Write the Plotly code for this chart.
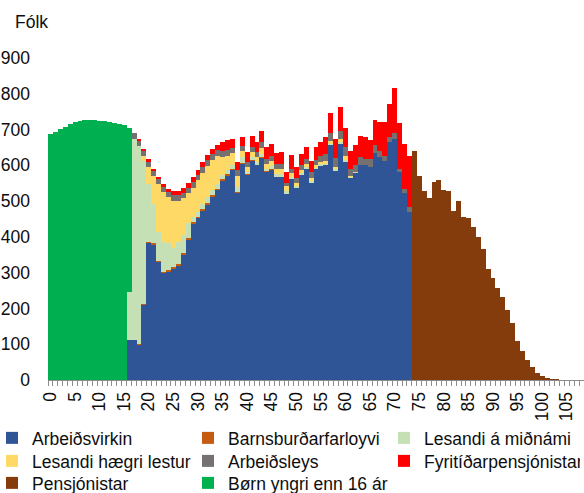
import plotly.graph_objects as go

# ---- data ----
ages = list(range(0, 109))
tick_ages = list(range(0, 110, 5))

# each series: first age and the values from that age on
arbeidsvirkin_start = 16
arbeidsvirkin = [112, 112, 100, 212, 385, 380, 330, 300, 304, 312,
                 320, 352, 394, 438, 453, 474, 491, 514, 532, 558,
                 572, 588, 523, 605, 573, 613, 601, 622, 583, 589,
                 568, 568, 521, 561, 539, 573, 591, 553, 590, 600,
                 602, 658, 586, 662, 612, 567, 580, 601, 601, 594,
                 634, 624, 613, 665, 675, 580, 523, 470]

barnsburdar_start = 18
barnsburdar = [2, 1, 1, 2, 2, 2, 3, 3, 4, 4, 3, 3, 3, 3, 3, 3, 3, 3, 3, 3,
               2, 2, 2, 2, 1, 1, 1, 1]

midnam_start = 16
midnam = [135, 563, 552, 398, 163, 110, 82, 84, 75, 53,
          62, 49, 41, 15, 14, 15, 18, 14, 14, 13,
          12, 11, 15, 16, 7, 7, 7, 9, 6, 9,
          7, 7, 8, 6, 4, 5, 4, 4, 3, 3,
          3, 3, 3, 3, 3, 1, 1]

haegri_start = 19
haegri = [14, 47, 78, 133, 140, 130, 133, 115, 105, 86,
          82, 89, 87, 86, 85, 77, 50, 40, 32, 30,
          17, 12, 14, 14, 17, 14, 14, 14, 14, 14,
          12, 9, 10, 8, 9, 8, 7, 7, 7, 6,
          9, 10, 2]

arbeidsleys_start = 17
arbeidsleys = [14, 14, 16, 16, 15, 14, 14, 14, 16, 16,
               13, 14, 16, 14, 15, 17, 15, 16, 15, 15,
               14, 17, 15, 14, 14, 14, 16, 14, 13, 14,
               14, 9, 12, 12, 14, 14, 14, 13, 16, 20,
               21, 26, 23, 25, 20, 20, 22, 18, 23, 24,
               17, 13, 14, 14, 11, 12, 14]

fyritidar_start = 18
fyritidar = [3, 3, 5, 6, 7, 9, 9, 11, 11, 14,
             13, 14, 15, 15, 14, 14, 14, 26, 28, 27,
             21, 25, 30, 32, 29, 32, 34, 35, 32, 34,
             30, 39, 30, 31, 34, 32, 38, 40, 48, 58,
             54, 65, 53, 50, 57, 59, 61, 54, 68, 81,
             96, 93, 126, 127, 124, 143]

pensjonistar_start = 74
pensjonistar = [639, 571, 527, 509, 553, 560, 532, 529, 473, 499,
                455, 453, 428, 400, 365, 309, 285, 257, 232, 197,
                158, 110, 80, 57, 37, 20, 11, 5, 2, 1]

born_start = 0
born = [687, 694, 702, 708, 715, 720, 724, 726, 728, 727,
        725, 723, 721, 719, 716, 712, 456]

# (name, first age, values, colour, legend block)
series = [
    ("Arbeiðsvirkin", arbeidsvirkin_start, arbeidsvirkin, "#2F5597", "legend"),
    ("Barnsburðarfarloyvi", barnsburdar_start, barnsburdar, "#C55A11", "legend"),
    ("Lesandi á miðnámi", midnam_start, midnam, "#C5E0B4", "legend"),
    ("Lesandi hægri lestur", haegri_start, haegri, "#FFD966", "legend2"),
    ("Arbeiðsleys", arbeidsleys_start, arbeidsleys, "#767171", "legend2"),
    ("Fyritíðarpensjónistar", fyritidar_start, fyritidar, "#FF0000", "legend2"),
    ("Pensjónistar", pensjonistar_start, pensjonistar, "#843C0C", "legend3"),
    ("Børn yngri enn 16 ár", born_start, born, "#00B050", "legend4"),
]

FONT = "Liberation Sans"
FS = 17.5
TXT = "#0d0d0d"
AXC = "#8C8C8C"

fig = go.Figure()
for name, start, vals, color, leg in series:
    xs = list(range(start, start + len(vals)))
    fig.add_trace(go.Bar(x=xs, y=vals, name=name, legend=leg,
                         marker=dict(color=color, line=dict(width=0))))

W, H = 584, 493
L, R, T, B = 48, 0, 58, 113
pw, ph = W - L - R, H - T - B
COL = 196           # horizontal distance between legend columns (px)
LEG_LEFT = -8       # left edge of the legend blocks (px)


def legend_block(left_px, top_px, entry=COL - 45):
    return dict(orientation="h", traceorder="normal",
                x=(left_px - L) / pw, xanchor="left",
                y=(H - B - top_px) / ph, yanchor="top",
                entrywidth=entry, entrywidthmode="pixels",
                font=dict(family=FONT, size=FS, color=TXT),
                bgcolor="rgba(0,0,0,0)")


fig.update_layout(
    width=W, height=H,
    margin=dict(l=L, r=R, t=T, b=B, pad=0, autoexpand=False),
    barmode="stack", bargap=0,
    paper_bgcolor="white", plot_bgcolor="white",
    font=dict(family=FONT, size=FS, color=TXT),
    showlegend=True,
    legend=legend_block(LEG_LEFT, 420),
    legend2=legend_block(LEG_LEFT, 443),
    legend3=legend_block(LEG_LEFT, 465),
    legend4=legend_block(LEG_LEFT + COL, 465, entry=220),
    xaxis=dict(range=[-0.5, 108.5], tickmode="array",
               tickvals=tick_ages, ticktext=[str(a) for a in tick_ages],
               tickangle=-90, ticks="", showgrid=False, zeroline=False,
               showline=True, linecolor=AXC, linewidth=1,
               ticklabelstandoff=4, automargin=False,
               tickfont=dict(family=FONT, size=FS, color=TXT),
               minor=dict(tick0=0.5, dtick=1, ticks="outside", ticklen=5,
                          tickcolor=AXC, showgrid=False)),
    yaxis=dict(range=[0, 900], tickmode="array",
               tickvals=list(range(0, 1000, 100)),
               ticks="", showgrid=False, zeroline=False, showline=False,
               ticklabelstandoff=17, automargin=False,
               tickfont=dict(family=FONT, size=FS, color=TXT)),
    annotations=[dict(text="Fólk", xref="paper", yref="paper",
                      x=(13 - L) / pw, xanchor="left",
                      y=(H - B - 22) / ph, yanchor="middle",
                      showarrow=False,
                      font=dict(family=FONT, size=FS, color=TXT))],
)

fig.write_html("out.html",
               config={"displayModeBar": False},
               post_script="document.body.style.margin='0';"
                           "document.body.style.overflow='hidden';")
